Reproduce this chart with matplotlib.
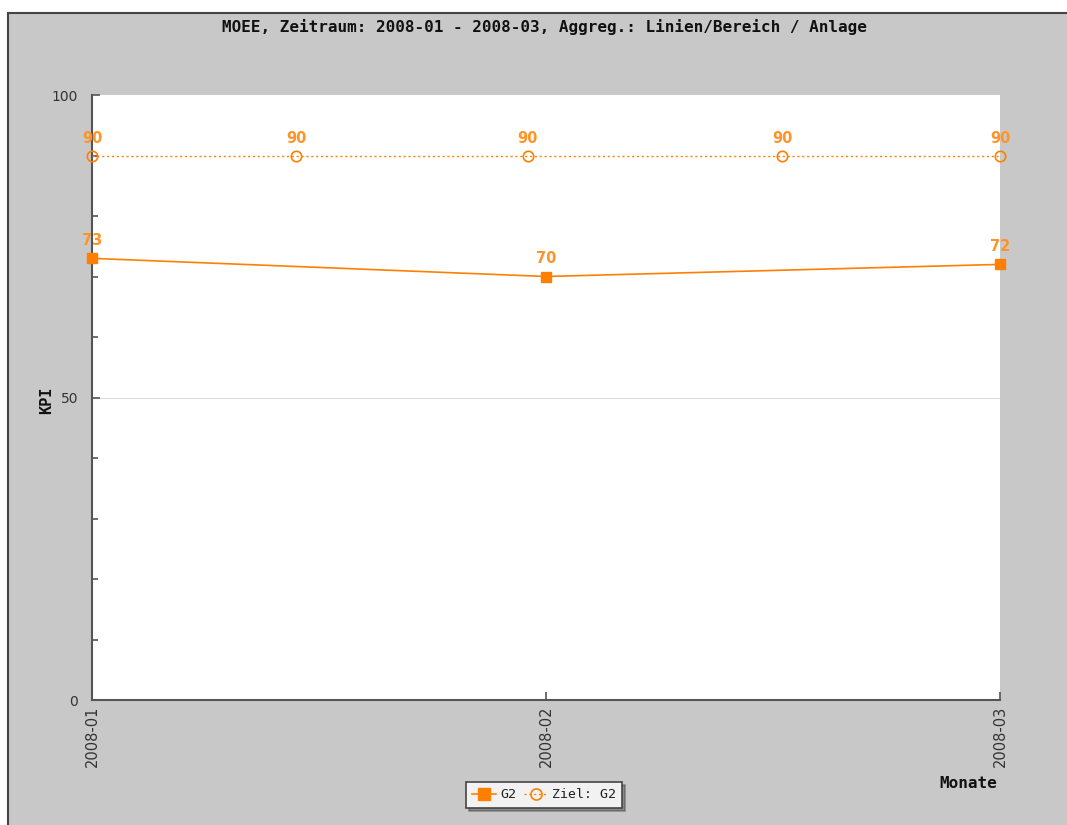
import matplotlib
matplotlib.use("Agg")
import matplotlib.pyplot as plt
from matplotlib.patches import Rectangle
from matplotlib.lines import Line2D

# --- data -------------------------------------------------------------
months = ["2008-01", "2008-02", "2008-03"]
g2_x = [0, 1, 2]
g2_values = [73, 70, 72]
target_x = [0, 0.45, 0.96, 1.52, 2.0]
target_values = [90, 90, 90, 90, 90]

title = "MOEE, Zeitraum: 2008-01 - 2008-03, Aggreg.: Linien/Bereich / Anlage"
series_name = "G2"
target_name = "Ziel: G2"

# --- style -------------------------------------------------------------
ORANGE = "#ff8000"
LABEL_ORANGE = "#ff9326"
PANEL = "#c8c8c8"
AXIS = "#555555"
MONO = "DejaVu Sans Mono"

W, H = 1067, 825
fig = plt.figure(figsize=(W / 100, H / 100), dpi=100, facecolor="white")

# grey chart panel with a dark frame on its left and top edges
fig.patches.append(Rectangle((8 / W, -0.05), 1.1, 1 - 13 / H + 0.05,
                             transform=fig.transFigure, facecolor=PANEL,
                             edgecolor="#444444", linewidth=1.5, zorder=-10))

ax = fig.add_axes([92 / W, 1 - 700 / H, (1000 - 92) / W, (700 - 95) / H])
ax.set_zorder(1)
ax.set_facecolor("white")
ax.set_xlim(0, 2)
ax.set_ylim(0, 100)

for side in ("top", "right"):
    ax.spines[side].set_visible(False)
for side in ("left", "bottom"):
    ax.spines[side].set_color(AXIS)
    ax.spines[side].set_linewidth(1.5)

ax.axhline(50, color="#dddddd", linewidth=0.8, zorder=0)

ax.set_yticks([0, 50, 100])
ax.set_yticks(range(10, 100, 10), minor=True)
ax.tick_params(axis="y", which="major", direction="in", length=6,
               width=1.2, color=AXIS, labelsize=10, labelcolor="#333333", pad=10)
ax.tick_params(axis="y", which="minor", direction="in", length=4,
               width=1.2, color=AXIS)

ax.set_xticks(g2_x)
ax.set_xticklabels(months, rotation=90, fontsize=10.5, color="#333333")
ax.tick_params(axis="x", direction="in", length=6, width=1.2, color=AXIS, pad=4)

# target line (dotted, open circles)
ax.plot(target_x, target_values, linestyle=(0, (1.5, 2)), linewidth=1.0,
        color=ORANGE, marker="o", markersize=7.5, markerfacecolor="none",
        markeredgecolor=ORANGE, markeredgewidth=1.2, clip_on=False, zorder=3)
# actual series (solid, filled squares)
ax.plot(g2_x, g2_values, linestyle="-", linewidth=1.2, color=ORANGE,
        marker="s", markersize=7, markerfacecolor=ORANGE,
        markeredgecolor=ORANGE, clip_on=False, zorder=4)

for x, v in zip(target_x, target_values):
    ax.annotate(f"{v:g}", (x, v), xytext=(0, 12), textcoords="offset points",
                ha="center", va="center", color=LABEL_ORANGE, fontsize=10.5,
                fontweight="bold", annotation_clip=False)
for x, v in zip(g2_x, g2_values):
    ax.annotate(f"{v:g}", (x, v), xytext=(0, 13), textcoords="offset points",
                ha="center", va="center", color=LABEL_ORANGE, fontsize=10.5,
                fontweight="bold", annotation_clip=False)

fig.text(544 / W, 1 - 27 / H, title, ha="center", va="center",
         family=MONO, fontweight="bold", fontsize=11.5, color="#111111")
fig.text(47 / W, 1 - 400 / H, "KPI", ha="center", va="center", rotation=90,
         family=MONO, fontweight="bold", fontsize=11, color="#111111")
fig.text(968 / W, 1 - 784 / H, "Monate", ha="center", va="center",
         family=MONO, fontweight="bold", fontsize=11.5, color="#111111")

handles = [
    Line2D([], [], color=ORANGE, linewidth=1.2, marker="s", markersize=8),
    Line2D([], [], color=ORANGE, linewidth=1.0, linestyle=(0, (1.5, 2)),
           marker="o", markersize=8, markerfacecolor="none", markeredgewidth=1.2),
]
leg = fig.legend(handles, [series_name, target_name], loc="center",
                 bbox_to_anchor=(544 / W, 1 - 795 / H), ncol=2,
                 prop={"family": MONO, "size": 9.5}, frameon=True,
                 fancybox=False, shadow=True, handlelength=1.8,
                 handletextpad=0.3, columnspacing=0.6, borderpad=0.5)
for txt in leg.get_texts():
    txt.set_color("#222222")
leg.get_frame().set_facecolor("#f2f2f2")
leg.get_frame().set_edgecolor("#444444")
leg.get_frame().set_linewidth(1.2)
leg.get_frame().set_alpha(1)

fig.savefig("out.png", dpi=100, facecolor=fig.get_facecolor())
